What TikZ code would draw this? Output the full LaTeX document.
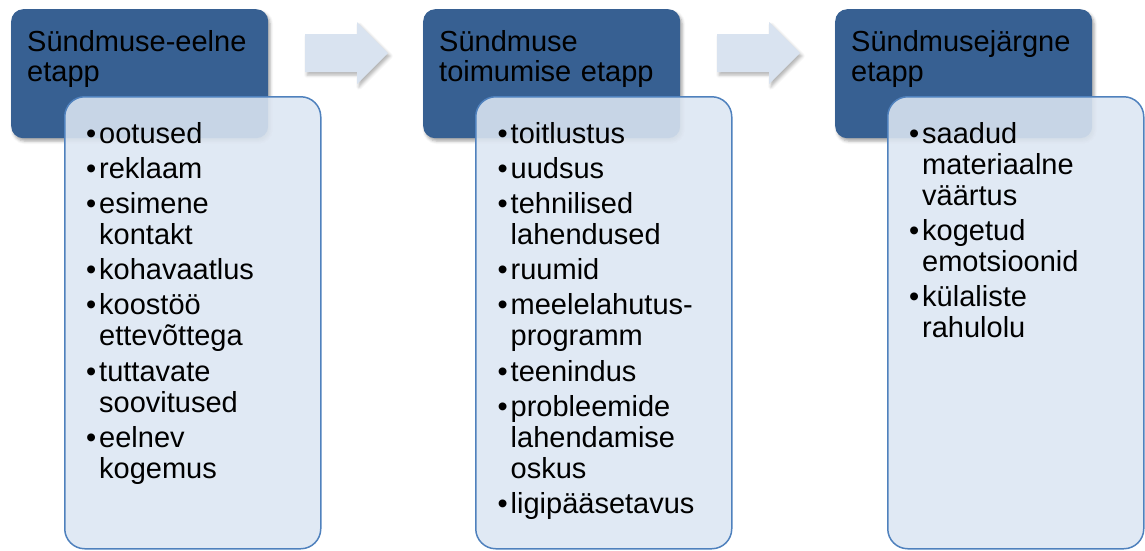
\documentclass[tikz,border=0pt]{standalone}
\usepackage{fontspec}
\setmainfont{Liberation Sans}
\usetikzlibrary{shadows.blur}

\definecolor{headblue}{HTML}{376092}
\definecolor{listfill}{HTML}{DCE6F2}
\definecolor{listline}{HTML}{4F81BD}
\definecolor{arrowfill}{HTML}{D9E3F0}

% text settings
\newcommand{\headfont}{\fontsize{29pt}{30.5pt}\selectfont}
\newcommand{\listfont}{\fontsize{29pt}{31pt}\selectfont}
\newcommand{\listsetup}{\setlength{\parskip}{4.2pt}\hyphenpenalty=10000\relax}
% one bulleted entry with a hanging indent
\newcommand{\entry}[1]{\hangindent=13pt\hangafter=1\relax
  \makebox[13pt][l]{•}#1\par}

\tikzset{
  headbox/.style={fill=headblue, rounded corners=12pt, minimum width=257pt,
    minimum height=129pt, anchor=north west, inner sep=0pt,
    blur shadow={shadow xshift=2pt, shadow yshift=-3pt,
      shadow blur radius=3pt, shadow opacity=35}},
  headtext/.style={anchor=base west, inner sep=0pt, text width=240pt,
    align=left, font=\headfont, text=black},
  listbox/.style={draw=listline, line width=1.5pt, fill=listfill,
    fill opacity=0.88, rounded corners=20pt, minimum width=256pt,
    minimum height=452pt, anchor=north west, inner sep=0pt},
  listtext/.style={anchor=base west, inner sep=0pt, text width=228pt,
    align=left, font=\listfont, text=black},
  stagearrow/.style={fill=arrowfill,
    blur shadow={shadow xshift=2pt, shadow yshift=-3pt,
      shadow blur radius=3pt, shadow opacity=30}},
}

\begin{document}
\begin{tikzpicture}[x=1pt, y=-1pt]
  \useasboundingbox (0,0) rectangle (1145,550);

  % stage headers
  \node[headbox] (h1) at (11,9) {};
  \node[headbox] (h2) at (423,9) {};
  \node[headbox] (h3) at (835,9) {};
  \node[headtext] (h1t) at (27,51) {Sündmuse-eelne\newline etapp};
  \node[headtext] (h2t) at (439,51) {Sündmuse\newline toimumise etapp};
  \node[headtext] (h3t) at (851,51) {Sündmusejärgne\newline etapp};

  % content boxes
  \node[listbox] (l1) at (64,96) {};
  \node[listbox] (l2) at (475,96) {};
  \node[listbox] (l3) at (887,96) {};

  \node[listtext] (l1t) at (86,143) {\listsetup%
    \entry{ootused}%
    \entry{reklaam}%
    \entry{esimene\newline kontakt}%
    \entry{kohavaatlus}%
    \entry{koostöö\newline ettevõttega}%
    \entry{tuttavate\newline soovitused}%
    \entry{eelnev\newline kogemus}};

  \node[listtext] (l2t) at (497.5,143) {\listsetup%
    \entry{toitlustus}%
    \entry{uudsus}%
    \entry{tehnilised\newline lahendused}%
    \entry{ruumid}%
    \entry{meelelahutus-\newline programm}%
    \entry{teenindus}%
    \entry{probleemide\newline lahendamise\newline oskus}%
    \entry{ligipääsetavus}};

  \node[listtext] (l3t) at (909,143) {\listsetup%
    \entry{saadud\newline materiaalne\newline väärtus}%
    \entry{kogetud\newline emotsioonid}%
    \entry{külaliste\newline rahulolu}};

  % block arrows between the stages
  \coordinate (a1) at (305,53);
  \coordinate (a2) at (717,53);
  \foreach \a in {a1,a2}
    \fill[stagearrow] (\a) ++(0,-19) -- ++(52,0) -- ++(0,-12) -- ++(31,31)
      -- ++(-31,31) -- ++(0,-12) -- ++(-52,0) -- cycle;
\end{tikzpicture}
\end{document}
